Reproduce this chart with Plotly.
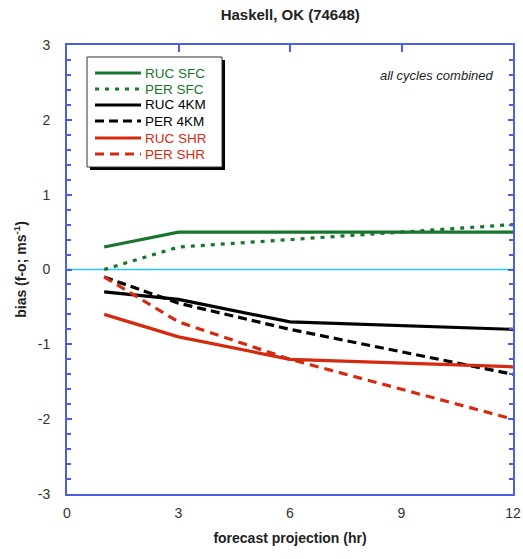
import plotly.graph_objects as go

hours = [1, 3, 6, 9, 12]
ruc_sfc = [0.3, 0.5, 0.5, 0.5, 0.5]
per_sfc = [0.0, 0.3, 0.4, 0.5, 0.6]
ruc_4km = [-0.3, -0.4, -0.7, -0.75, -0.8]
per_4km = [-0.1, -0.45, -0.8, -1.1, -1.4]
ruc_shr = [-0.6, -0.9, -1.2, -1.25, -1.3]
per_shr = [-0.1, -0.7, -1.2, -1.6, -2.0]
zero_x = [0, 12]
zero_y = [0, 0]
x_ticks = [0, 3, 6, 9, 12]
y_ticks = [-3, -2, -1, 0, 1, 2, 3]
y_ticktext = ["-3", "-2", "-1", "0", "1", "2", "3"]

GREEN = "#17762c"
BLACK = "#000000"
RED = "#d42a10"
AXIS = "#4b5fe0"

series = [
    ("RUC SFC", ruc_sfc, GREEN, "solid"),
    ("PER SFC", per_sfc, GREEN, "4px,6px"),
    ("RUC 4KM", ruc_4km, BLACK, "solid"),
    ("PER 4KM", per_4km, BLACK, "9px,5px"),
    ("RUC SHR", ruc_shr, RED, "solid"),
    ("PER SHR", per_shr, RED, "9px,6px"),
]

W, H = 523, 559
L, R, T, B = 67, 10, 45, 65
PW, PH = W - L - R, H - T - B


def px(x):
    return (x - L) / PW


def py(y):
    return (H - B - y) / PH


fig = go.Figure()
fig.add_trace(go.Scatter(x=zero_x, y=zero_y, mode="lines",
                         line=dict(color="#22c8f0", width=1.5),
                         showlegend=False, hoverinfo="skip"))
for name, vals, col, dash in series:
    fig.add_trace(go.Scatter(
        x=hours, y=vals, mode="lines", name=name,
        line=dict(color=col, width=3.2, dash=dash), showlegend=False,
    ))
# invisible trace to anchor top tick axis
fig.add_trace(go.Scatter(x=zero_x, y=zero_y, xaxis="x2", mode="lines",
                         line=dict(width=0), showlegend=False, hoverinfo="skip",
                         opacity=0))

# manual legend box (with drop shadow)
shapes = [
    dict(type="rect", xref="paper", yref="paper", x0=px(90), x1=px(225),
         y0=py(60), y1=py(170), fillcolor="black", line=dict(width=0),
         layer="above"),
    dict(type="rect", xref="paper", yref="paper", x0=px(87), x1=px(222),
         y0=py(57), y1=py(167), fillcolor="white",
         line=dict(color="#333", width=1), layer="above"),
]
annotations = []
row_y = [73, 89, 105, 121, 138, 154]
for (name, vals, col, dash), ry in zip(series, row_y):
    shapes.append(dict(type="line", xref="paper", yref="paper",
                       x0=px(95), x1=px(141), y0=py(ry), y1=py(ry),
                       line=dict(color=col, width=3.2, dash=dash),
                       layer="above"))
    annotations.append(dict(text=name, xref="paper", yref="paper",
                            x=px(143), y=py(ry), xanchor="left",
                            yanchor="middle", showarrow=False,
                            font=dict(size=13.5, color=col)))

annotations.append(dict(text="<i>all cycles combined</i>", xref="paper",
                        yref="paper", x=px(495), y=py(75), xanchor="right",
                        yanchor="middle", showarrow=False,
                        font=dict(size=13, color="#222")))

fig.update_layout(
    width=W, height=H,
    margin=dict(l=L, r=R, t=T, b=B, autoexpand=False),
    paper_bgcolor="white", plot_bgcolor="white",
    font=dict(family="Liberation Sans, Arial", size=14, color="#333"),
    title=dict(text="<b>Haskell, OK (74648)</b>", x=0.555, xanchor="center",
               y=0.974, yanchor="middle",
               font=dict(size=15, color="#222")),
    xaxis=dict(range=[0, 12], tickvals=x_ticks, ticks="", showgrid=False,
               zeroline=False, showline=True, linecolor=AXIS, linewidth=2,
               mirror=True, ticklabelstandoff=5, automargin=False,
               title=dict(text="<b>forecast projection (hr)</b>",
                          font=dict(size=14, color="#222"), standoff=13)),
    xaxis2=dict(range=[0, 12], overlaying="x", side="top", tickvals=x_ticks,
                ticks="inside", ticklen=7, tickcolor=AXIS, tickwidth=2,
                showticklabels=False, showgrid=False, zeroline=False,
                showline=False, automargin=False),
    yaxis=dict(range=[-3, 3], tickvals=y_ticks, ticktext=y_ticktext,
               ticks="inside", ticklen=5,
               tickcolor=AXIS, tickwidth=1.5, showgrid=False, zeroline=False,
               showline=True, linecolor=AXIS, linewidth=2, mirror="ticks",
               ticklabelstandoff=12, automargin=False,
               minor=dict(dtick=0.2, ticks="inside", ticklen=4,
                          tickcolor=AXIS, tickwidth=1.5),
               title=dict(text="<b>bias (f-o; ms<sup>-1</sup>)</b>",
                          font=dict(size=14, color="#222"), standoff=8)),
    shapes=shapes,
    annotations=annotations,
)

fig.write_html("out.html")
